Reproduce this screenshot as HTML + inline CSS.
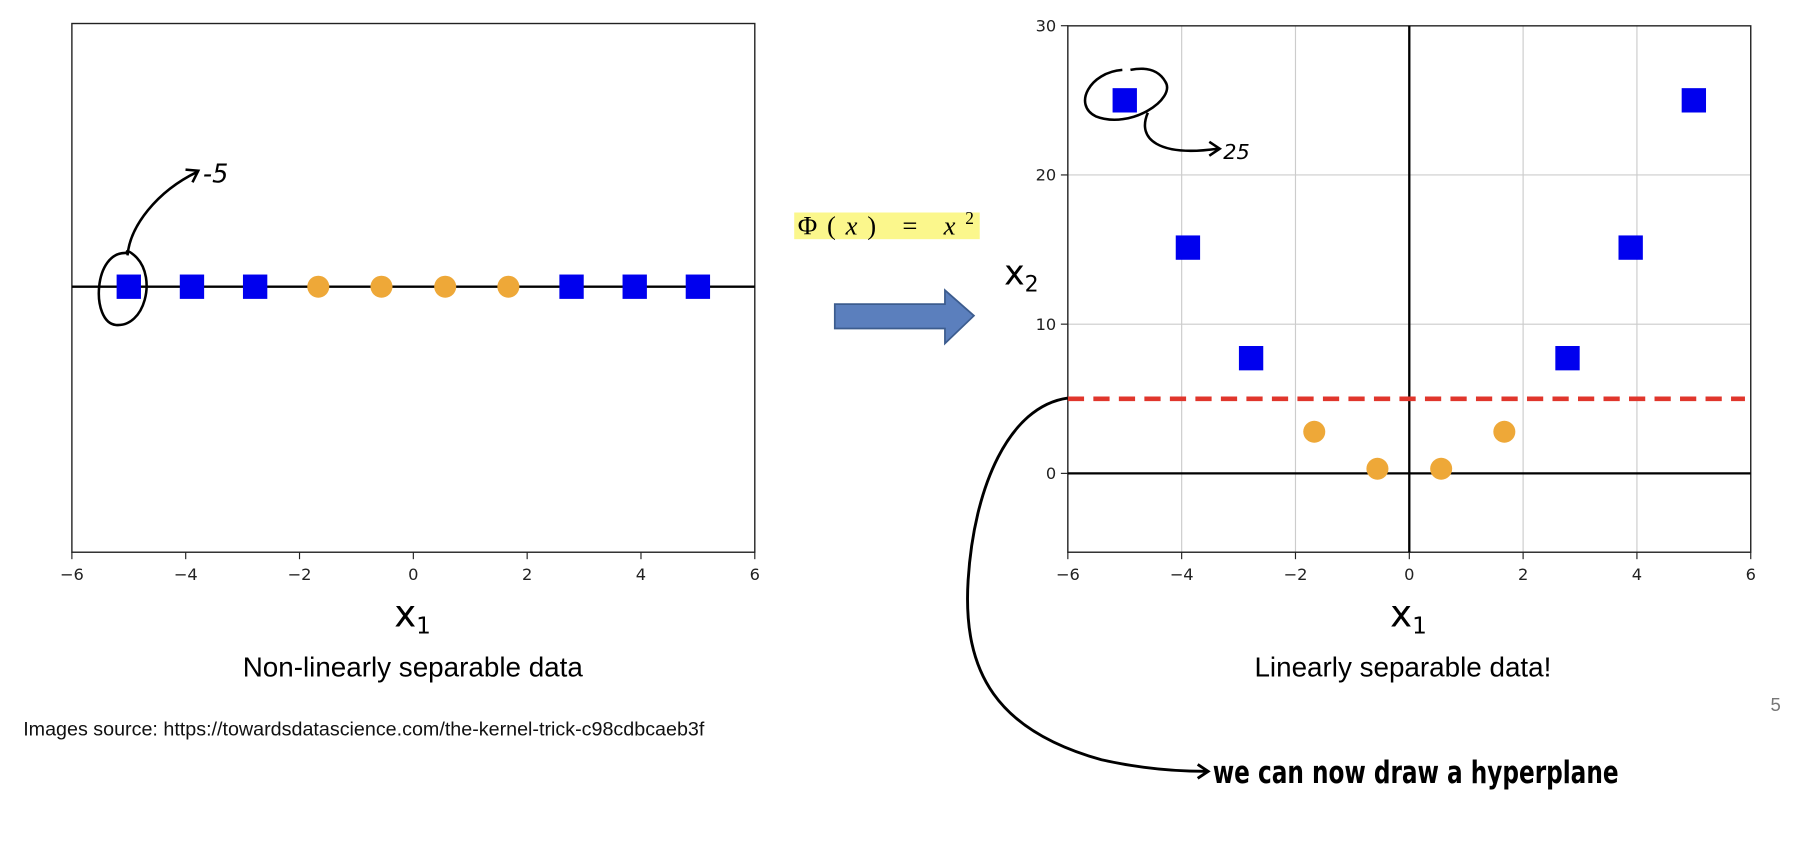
<!DOCTYPE html>
<html><head><meta charset="utf-8"><style>
html,body{margin:0;padding:0;background:#fff;width:1818px;height:854px;overflow:hidden}
svg text{font-family:"DejaVu Sans","Liberation Sans",sans-serif}
</style></head><body>
<svg id="main" width="1818" height="854" viewBox="0 0 1568 736" xmlns="http://www.w3.org/2000/svg">
<g id="left"></g>
<g id="right"></g>
<text x="356" y="583" font-size="24" text-anchor="middle" fill="#000" style="font-family:'Liberation Sans',sans-serif">Non-linearly separable data</text>
<text x="1210" y="583" font-size="24" text-anchor="middle" fill="#000" style="font-family:'Liberation Sans',sans-serif">Linearly separable data!</text>
<text x="20" y="634" font-size="17" fill="#111" style="font-family:'Liberation Sans',sans-serif">Images source: https://towardsdatascience.com/the-kernel-trick-c98cdbcaeb3f</text>
<text x="1527" y="613" font-size="16" fill="#777" style="font-family:'Liberation Sans',sans-serif">5</text>
<rect x="685" y="183" width="160" height="23" fill="#fbf78c"/>
<text x="688" y="202" font-size="23" fill="#000" textLength="152" lengthAdjust="spacing" style="font-family:'Liberation Serif',serif">Φ(<tspan font-style="italic">x</tspan>) = <tspan font-style="italic">x</tspan><tspan font-size="15" dy="-9">2</tspan></text>
<path d="M720,262 H815 V250 L840,272 L815,296 V283 H720 Z" fill="#5b7fbd" stroke="#3c5c8e" stroke-width="1.5"/>
<g fill="none" stroke="#000" stroke-width="2.2">
<path d="M110,218 C80,215 78,278 100,280 C125,282 135,240 118,222 C112,216 108,215 110,218"/>
<path d="M110,220 C112,195 135,165 170,148 M160,146 L171,147 L166,157"/>
<path d="M968,60 C940,62 925,90 945,100 C975,112 1015,85 1005,70 C998,58 985,58 975,60 M990,97 C980,120 1000,135 1050,128 M1043,122 L1052,128 L1043,134"/>
<path d="M921,343 C870,350 840,420 835,500 C830,580 860,630 950,655 C990,664 1020,665 1040,665 M1033,659 L1042,665 L1033,671" stroke-width="2.5"/>
</g>
<text x="175" y="157" font-size="22" font-style="italic" fill="#000">-5</text>
<text x="1055" y="137" font-size="18" font-style="italic" fill="#000">25</text>
<text x="1046" y="675" font-size="27" font-weight="bold" fill="#000" style="font-family:'DejaVu Sans Condensed','DejaVu Sans',sans-serif" textLength="350" lengthAdjust="spacingAndGlyphs">we can now draw a hyperplane</text>
</svg>
<script>
const NS="http://www.w3.org/2000/svg";
const xVals=[-5,-3.89,-2.78,-1.67,-0.56,0.56,1.67,2.78,3.89,5];
const classes=["sq","sq","sq","c","c","c","c","sq","sq","sq"];
const yVals2=[25,15.13,7.72,2.79,0.31,0.31,2.79,7.72,15.13,25];
const xTicks=[-6,-4,-2,0,2,4,6];
const yTicks=[0,10,20,30];
const threshold=5;
function mk(p,tag,a){const e=document.createElementNS(NS,tag);for(const k in a)e.setAttribute(k,a[k]);p.appendChild(e);return e;}
// left
const L=document.getElementById('left');
const lx=v=>62+(v+6)/12*589;
mk(L,'rect',{x:62,y:20,width:589,height:456,fill:'none',stroke:'#222','stroke-width':1.2});
mk(L,'line',{x1:62,x2:651,y1:247,y2:247,stroke:'#000','stroke-width':2});
xTicks.forEach(t=>{mk(L,'line',{x1:lx(t),x2:lx(t),y1:476,y2:482,stroke:'#222'});
const tx=mk(L,'text',{x:lx(t),y:500,'font-size':14,'text-anchor':'middle',fill:'#222'});tx.textContent=(t<0?'−':'')+Math.abs(t);
});
xVals.forEach((v,i)=>{let e;if(classes[i]=='sq')e=mk(L,'rect',{x:lx(v)-10.5,y:247-10.5,width:21,height:21,fill:'#0000ee'});
else e=mk(L,'circle',{cx:lx(v),cy:247,r:9.5,fill:'#eea838'});
});
let t1=mk(L,'text',{x:340,y:540,'font-size':32,fill:'#000'});t1.innerHTML='x<tspan font-size="20" dy="6">1</tspan>';

// right
const R=document.getElementById('right');
const rx=v=>921+(v+6)/12*589;
const ry=v=>408-v*12.87;
xTicks.forEach(t=>{const g=mk(R,'line',{x1:rx(t),x2:rx(t),y1:22,y2:476,stroke:'#ccc','stroke-width':1});
mk(R,'line',{x1:rx(t),x2:rx(t),y1:476,y2:482,stroke:'#222'});
const tx=mk(R,'text',{x:rx(t),y:500,'font-size':14,'text-anchor':'middle',fill:'#222'});tx.textContent=(t<0?'−':'')+Math.abs(t);
});
yTicks.forEach(t=>{if(t<30){const g=mk(R,'line',{x1:921,x2:1510,y1:ry(t),y2:ry(t),stroke:'#ccc'});}
mk(R,'line',{x1:915,x2:921,y1:ry(t),y2:ry(t),stroke:'#222'});
const tx=mk(R,'text',{x:911,y:ry(t)+5,'font-size':14,'text-anchor':'end',fill:'#222'});tx.textContent=t;
});
mk(R,'rect',{x:921,y:22,width:589,height:454,fill:'none',stroke:'#222','stroke-width':1.2});
mk(R,'line',{x1:921,x2:1510,y1:ry(0),y2:ry(0),stroke:'#000','stroke-width':2});
mk(R,'line',{x1:rx(0),x2:rx(0),y1:22,y2:476,stroke:'#000','stroke-width':2});
mk(R,'line',{x1:921,x2:1505,y1:ry(threshold),y2:ry(threshold),stroke:'#e0362c','stroke-width':4,'stroke-dasharray':'14 8'});
xVals.forEach((v,i)=>{let e;const y=ry(yVals2[i]);if(classes[i]=='sq')e=mk(R,'rect',{x:rx(v)-10.5,y:y-10.5,width:21,height:21,fill:'#0000ee'});
else e=mk(R,'circle',{cx:rx(v),cy:y,r:9.5,fill:'#eea838'});
});
let t2=mk(R,'text',{x:1199,y:540,'font-size':32,fill:'#000'});t2.innerHTML='x<tspan font-size="20" dy="6">1</tspan>';

let t3=mk(R,'text',{x:866,y:245,'font-size':30,fill:'#000'});t3.innerHTML='x<tspan font-size="19" dy="6">2</tspan>';

</script>
</body></html>
